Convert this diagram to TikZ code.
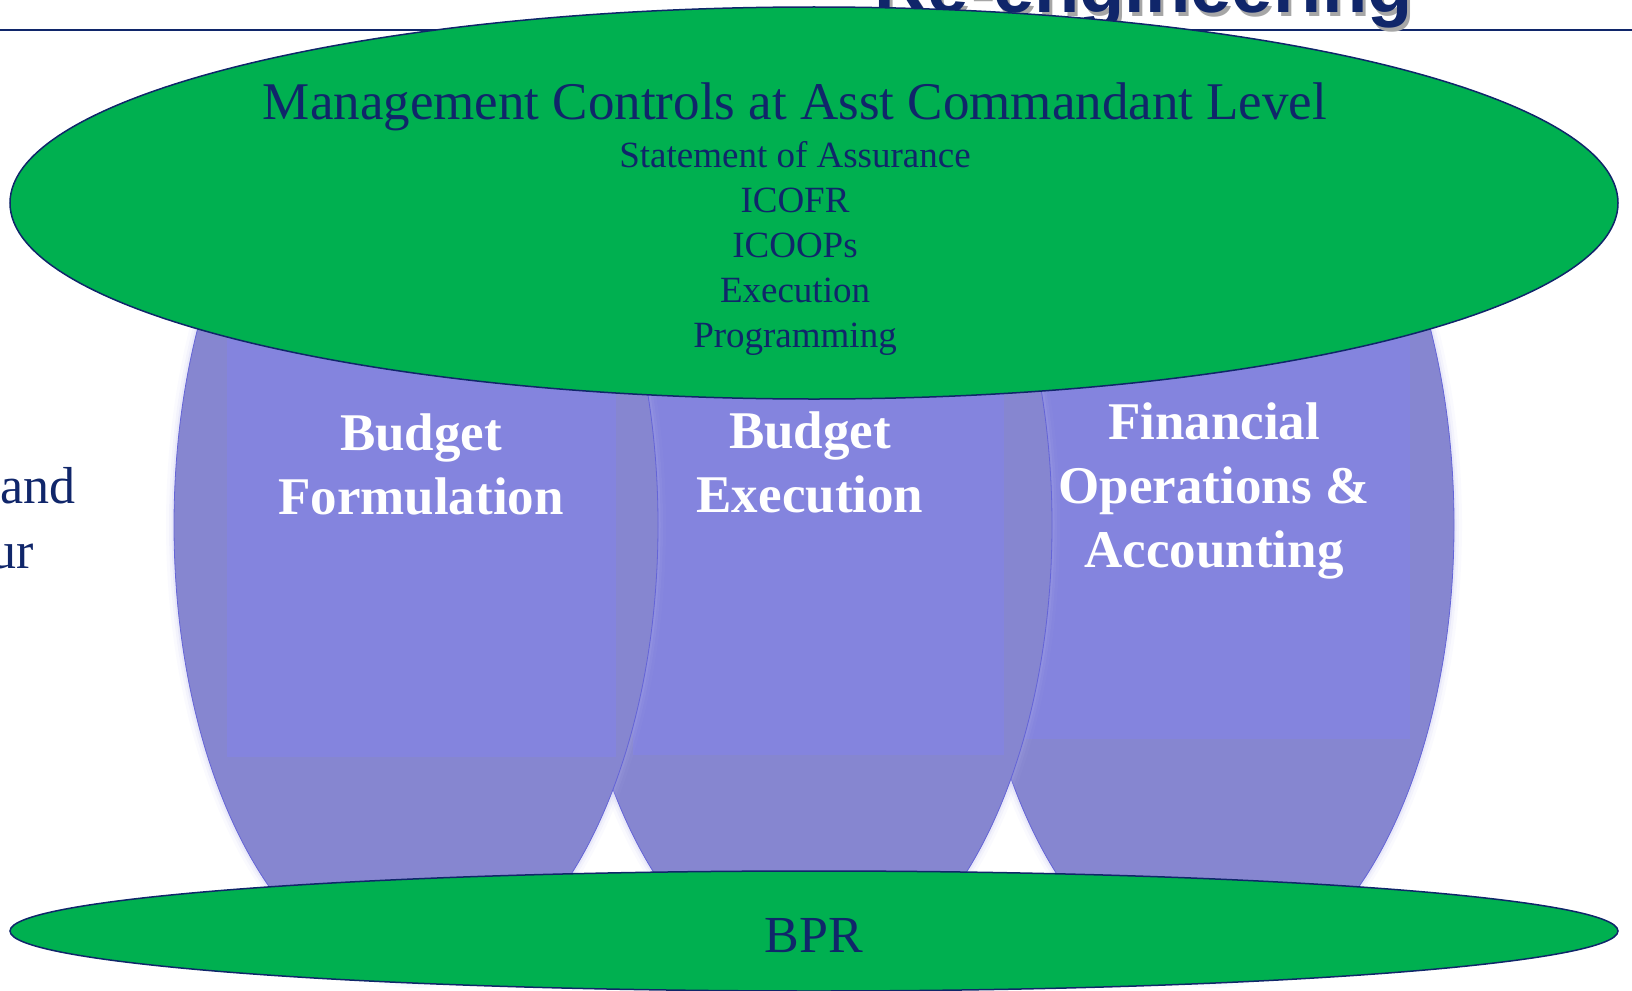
\documentclass[tikz,border=0pt]{standalone}
\usepackage{fontspec}
\setmainfont{Liberation Serif}
\newfontfamily\headfont{Liberation Sans}
\usetikzlibrary{shapes.geometric}

\definecolor{navy}{RGB}{16,38,106}
\definecolor{capgreen}{RGB}{0,176,80}
\definecolor{pillarfill}{RGB}{134,134,208}
\definecolor{pillarbox}{RGB}{132,132,222}
\definecolor{pillaredge}{RGB}{100,100,215}

\tikzset{
  capoval/.style={ellipse,fill=capgreen,draw=navy,line width=1.5pt,inner sep=0pt},
  captext/.style={text=navy,anchor=base,inner sep=0pt},
  pillartext/.style={text=white,anchor=base,align=center,inner sep=0pt,
    font=\fontsize{53}{64}\selectfont\bfseries}
}

% one pillar: name, centre x, box left, box right, box bottom
\newcommand{\pillar}[5]{
    \coordinate (#1) at (#2,525);
    \foreach \w/\op in {16/0.06,10/0.10,5/0.16}
        \draw[line width=\w pt,pillaredge!50,opacity=\op] (#1) ellipse (242pt and 455pt);
    \fill[pillarfill] (#1) ellipse (242pt and 455pt);
    \begin{scope}
        \clip (#1) ellipse (242pt and 455pt);
        \fill[pillarbox] (#3,250) rectangle (#4,#5);
    \end{scope}
    \draw[pillaredge,line width=0.8pt] (#1) ellipse (242pt and 455pt);
}

\begin{document}
\begin{tikzpicture}[x=1pt, y=-1pt]
        \useasboundingbox (0,0) rectangle (1632,990);
        \clip (0,0) rectangle (1632,990);

        % slide title and rule
        \draw[navy, line width=2pt] (0,30) -- (1632,30);
        \node[text=black!35, anchor=base west, inner sep=0pt, font=\fontsize{74}{80}\selectfont\headfont\bfseries] (titleshadow) at (877,17) {Re-engineering};
        \node[text=navy, anchor=base west, inner sep=0pt, font=\fontsize{74}{80}\selectfont\headfont\bfseries] (title) at (874,13) {Re-engineering};

        % left side text
        \node[captext, anchor=base east, font=\fontsize{52}{60}\selectfont] (sideand) at (76,503) {and};
        \node[captext, anchor=base east, font=\fontsize{52}{60}\selectfont] (sideur) at (34,568) {ur};

        % pillars, right one first
        \pillar{foa}{1212}{1018}{1410}{739}
        \pillar{exec}{810}{633}{1004}{755}
        \pillar{form}{416}{227}{616}{757}

        % base anchor sits on the last line
        \node[pillartext] (formtext) at (421,514) {Budget\\Formulation};
        \node[pillartext] (exectext) at (810,512) {Budget\\Execution};
        \node[pillartext] (foatext) at (1214,567) {Financial\\Operations \&\\Accounting};

        % management controls cap
        \node[capoval, minimum width=1608pt, minimum height=392pt] (mgmt) at (814,203) {};
        \node[captext, font=\fontsize{53}{60}\selectfont] (mgmttitle) at (795,119) {Management Controls at Asst Commandant Level};
        \foreach \item [count=\i] in {Statement of Assurance, ICOFR, ICOOPs, Execution, Programming}
            \node[captext, font=\fontsize{37}{45}\selectfont] (item\i) at (795,{122+45*\i}) {\item};

        % BPR base
        \node[capoval, minimum width=1608pt, minimum height=120pt] (bpr) at (814,931) {};
        \node[captext, font=\fontsize{52}{60}\selectfont] (bprtext) at (814,952) {BPR};
\end{tikzpicture}
\end{document}
